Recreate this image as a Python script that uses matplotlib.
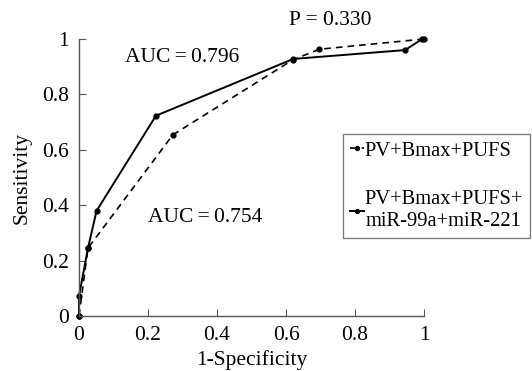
import matplotlib
matplotlib.use("Agg")
import matplotlib.pyplot as plt

# ROC points
fpr_base = [0.0, 0.026, 0.272, 0.62, 0.697, 1.0]
tpr_base = [0.0, 0.245, 0.654, 0.925, 0.963, 1.0]
fpr_mir = [0.0, 0.0, 0.026, 0.051, 0.223, 0.621, 0.945, 0.995]
tpr_mir = [0.0, 0.072, 0.245, 0.38, 0.723, 0.928, 0.96, 1.0]

label_base = "PV+Bmax+PUFS"
label_mir = "PV+Bmax+PUFS+\nmiR-99a+miR-221"
ticks = [0, 0.2, 0.4, 0.6, 0.8, 1]
tick_labels = ["0", "0.2", "0.4", "0.6", "0.8", "1"]

plt.rcParams["font.family"] = ["Liberation Serif", "DejaVu Serif"]
plt.rcParams["font.size"] = 15.5

fig = plt.figure(figsize=(5.32, 3.71), dpi=100)
ax = fig.add_axes([79 / 532, 1 - 316 / 371, 345 / 532, 277 / 371])

lb, = ax.plot(fpr_base, tpr_base, "--", color="black", lw=1.2, marker="o", ms=3.5,
              dashes=(4, 3), clip_on=False)
lm, = ax.plot(fpr_mir, tpr_mir, "-", color="black", lw=1.4, marker="o", ms=3.5,
              clip_on=False)

ax.set_xlim(0, 1); ax.set_ylim(0, 1)
ax.set_xticks(ticks); ax.set_xticklabels(tick_labels)
ax.set_yticks(ticks); ax.set_yticklabels(tick_labels)
ax.tick_params(direction="in", length=5, width=0.8, color="#555555", pad=7)
for s in ["top", "right"]:
    ax.spines[s].set_visible(False)
for s in ["left", "bottom"]:
    ax.spines[s].set_color("#555555"); ax.spines[s].set_linewidth(1.0)

ax.set_xlabel("1-Specificity", labelpad=4)
ax.set_ylabel("Sensitivity", labelpad=8)

ax.text(0.133, 0.935, "AUC\u2009=\u20090.796", transform=ax.transAxes, va="center")
ax.text(0.2, 0.355, "AUC\u2009=\u20090.754", transform=ax.transAxes, va="center")
ax.text(0.61, 1.065, "P = 0.330", transform=ax.transAxes, va="center")

leg = fig.legend([lb, lm], [label_base, label_mir], loc="upper left",
                 bbox_to_anchor=(343 / 532, 1 - 134 / 371), frameon=True,
                 fancybox=False, edgecolor="#555555", handlelength=0.65,
                 handletextpad=0.05, labelspacing=1.45, borderpad=0.35,
                 borderaxespad=0, markerscale=0.8, fontsize=14.8)
leg.get_frame().set_linewidth(0.9)
for t in leg.get_texts():
    t.set_multialignment("center")

fig.savefig("out.png", dpi=100)
